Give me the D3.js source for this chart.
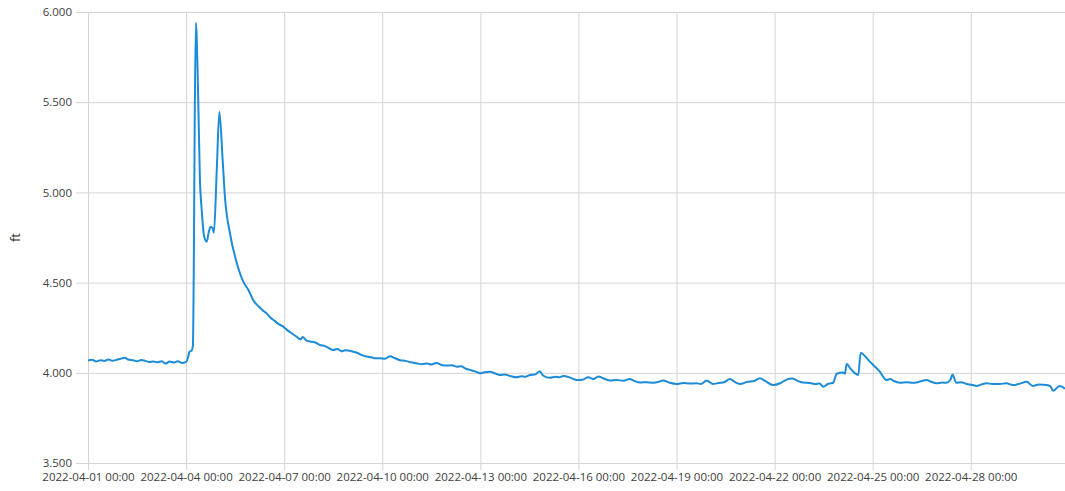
<!DOCTYPE html>
<html>
<head>
<meta charset="utf-8">
<script src="https://cdn.jsdelivr.net/npm/d3@7"></script>
<style>
  html, body { margin: 0; padding: 0; background: #fff; }
  #chart { width: 1065px; height: 491px; }
  text { font-family: "Open Sans", "DejaVu Sans", sans-serif; }
</style>
</head>
<body>
<div id="chart"></div>
<script>

// water level readings (ft)
const readings = [
  ["2022-04-01 00:00", 4.068], ["2022-04-01 03:00", 4.072], ["2022-04-01 06:00", 4.063], ["2022-04-01 09:00", 4.070],
  ["2022-04-01 12:00", 4.066], ["2022-04-01 15:00", 4.074], ["2022-04-01 18:00", 4.067], ["2022-04-01 21:00", 4.072],
  ["2022-04-02 00:00", 4.078], ["2022-04-02 03:00", 4.083], ["2022-04-02 06:00", 4.072], ["2022-04-02 09:00", 4.070],
  ["2022-04-02 12:00", 4.064], ["2022-04-02 15:00", 4.071], ["2022-04-02 18:00", 4.066], ["2022-04-02 21:00", 4.060],
  ["2022-04-03 00:00", 4.063], ["2022-04-03 03:00", 4.058], ["2022-04-03 06:00", 4.064], ["2022-04-03 09:00", 4.051],
  ["2022-04-03 12:00", 4.062], ["2022-04-03 15:00", 4.057], ["2022-04-03 18:00", 4.064], ["2022-04-03 21:00", 4.055],
  ["2022-04-04 00:00", 4.061], ["2022-04-04 01:30", 4.088], ["2022-04-04 02:30", 4.118], ["2022-04-04 04:00", 4.122],
  ["2022-04-04 05:00", 4.150], ["2022-04-04 05:40", 4.600], ["2022-04-04 06:20", 5.400], ["2022-04-04 07:10", 5.940],
  ["2022-04-04 08:50", 5.550], ["2022-04-04 10:05", 5.090], ["2022-04-04 11:30", 4.900], ["2022-04-04 13:10", 4.760],
  ["2022-04-04 15:10", 4.727], ["2022-04-04 16:40", 4.780], ["2022-04-04 18:00", 4.810], ["2022-04-04 19:30", 4.800],
  ["2022-04-04 20:25", 4.777], ["2022-04-04 22:30", 5.120], ["2022-04-05 00:25", 5.447], ["2022-04-05 02:50", 5.180],
  ["2022-04-05 04:30", 4.976], ["2022-04-05 08:10", 4.775], ["2022-04-05 13:10", 4.610], ["2022-04-05 18:00", 4.505],
  ["2022-04-05 21:40", 4.460], ["2022-04-06 01:30", 4.400], ["2022-04-06 05:00", 4.370], ["2022-04-06 08:00", 4.348],
  ["2022-04-06 11:00", 4.330], ["2022-04-06 14:00", 4.305], ["2022-04-06 17:00", 4.288], ["2022-04-06 20:00", 4.270],
  ["2022-04-06 23:20", 4.256], ["2022-04-07 02:00", 4.238], ["2022-04-07 05:00", 4.222], ["2022-04-07 09:10", 4.200],
  ["2022-04-07 12:00", 4.185], ["2022-04-07 13:30", 4.198], ["2022-04-07 16:30", 4.178], ["2022-04-07 20:00", 4.172],
  ["2022-04-07 23:00", 4.168], ["2022-04-08 02:10", 4.154], ["2022-04-08 06:00", 4.148], ["2022-04-08 09:00", 4.136],
  ["2022-04-08 12:00", 4.126], ["2022-04-08 15:00", 4.132], ["2022-04-08 18:00", 4.120], ["2022-04-08 21:00", 4.125],
  ["2022-04-09 02:40", 4.117], ["2022-04-09 06:00", 4.110], ["2022-04-09 09:00", 4.098], ["2022-04-09 12:30", 4.090],
  ["2022-04-09 16:00", 4.086], ["2022-04-09 19:00", 4.080], ["2022-04-09 22:20", 4.080], ["2022-04-10 02:00", 4.078],
  ["2022-04-10 05:45", 4.092], ["2022-04-10 09:00", 4.082], ["2022-04-10 13:00", 4.070], ["2022-04-10 17:00", 4.066],
  ["2022-04-10 21:00", 4.058], ["2022-04-11 01:10", 4.053], ["2022-04-11 05:00", 4.048], ["2022-04-11 09:00", 4.052],
  ["2022-04-11 12:00", 4.046], ["2022-04-11 15:50", 4.054], ["2022-04-11 19:00", 4.045], ["2022-04-11 23:00", 4.040],
  ["2022-04-12 03:00", 4.042], ["2022-04-12 06:40", 4.034], ["2022-04-12 10:00", 4.036], ["2022-04-12 13:00", 4.024],
  ["2022-04-12 16:20", 4.016], ["2022-04-12 20:00", 4.008], ["2022-04-12 23:45", 3.997], ["2022-04-13 03:00", 4.003],
  ["2022-04-13 07:00", 4.006], ["2022-04-13 11:00", 3.996], ["2022-04-13 14:25", 3.988], ["2022-04-13 18:00", 3.990],
  ["2022-04-13 22:00", 3.982], ["2022-04-14 02:40", 3.975], ["2022-04-14 06:00", 3.981], ["2022-04-14 09:00", 3.978],
  ["2022-04-14 12:30", 3.988], ["2022-04-14 16:00", 3.990], ["2022-04-14 19:40", 4.008], ["2022-04-14 22:00", 3.985],
  ["2022-04-15 03:10", 3.972], ["2022-04-15 07:00", 3.978], ["2022-04-15 10:00", 3.975], ["2022-04-15 13:00", 3.982],
  ["2022-04-15 17:00", 3.976], ["2022-04-15 22:30", 3.960], ["2022-04-16 03:00", 3.962], ["2022-04-16 07:10", 3.975],
  ["2022-04-16 11:00", 3.965], ["2022-04-16 14:40", 3.980], ["2022-04-16 18:00", 3.970], ["2022-04-16 23:00", 3.958],
  ["2022-04-17 04:00", 3.960], ["2022-04-17 09:00", 3.956], ["2022-04-17 13:40", 3.966], ["2022-04-17 17:00", 3.955],
  ["2022-04-17 21:10", 3.946], ["2022-04-18 02:00", 3.948], ["2022-04-18 07:00", 3.945], ["2022-04-18 11:00", 3.950],
  ["2022-04-18 14:10", 3.958], ["2022-04-18 19:00", 3.945], ["2022-04-19 00:00", 3.938], ["2022-04-19 05:00", 3.944],
  ["2022-04-19 10:00", 3.940], ["2022-04-19 14:40", 3.942], ["2022-04-19 18:00", 3.938], ["2022-04-19 22:05", 3.958],
  ["2022-04-20 02:50", 3.938], ["2022-04-20 07:00", 3.944], ["2022-04-20 11:00", 3.948], ["2022-04-20 15:10", 3.966],
  ["2022-04-20 19:00", 3.948], ["2022-04-20 22:35", 3.938], ["2022-04-21 04:00", 3.950], ["2022-04-21 09:00", 3.955],
  ["2022-04-21 13:10", 3.970], ["2022-04-21 17:00", 3.955], ["2022-04-21 23:00", 3.932], ["2022-04-22 04:00", 3.942],
  ["2022-04-22 08:50", 3.962], ["2022-04-22 13:00", 3.968], ["2022-04-22 17:00", 3.955], ["2022-04-22 20:50", 3.946],
  ["2022-04-23 02:00", 3.944], ["2022-04-23 06:00", 3.938], ["2022-04-23 09:00", 3.940], ["2022-04-23 11:45", 3.923],
  ["2022-04-23 15:00", 3.938], ["2022-04-23 19:00", 3.945], ["2022-04-23 21:35", 3.995], ["2022-04-24 02:25", 4.002],
  ["2022-04-24 03:40", 3.995], ["2022-04-24 04:50", 4.049], ["2022-04-24 08:00", 4.020], ["2022-04-24 11:00", 3.997],
  ["2022-04-24 13:25", 3.988], ["2022-04-24 15:10", 4.110], ["2022-04-24 21:50", 4.062], ["2022-04-25 05:15", 4.006],
  ["2022-04-25 10:05", 3.960], ["2022-04-25 13:00", 3.965], ["2022-04-25 15:10", 3.956], ["2022-04-25 19:55", 3.945],
  ["2022-04-26 01:00", 3.948], ["2022-04-26 05:00", 3.945], ["2022-04-26 08:10", 3.946], ["2022-04-26 12:00", 3.955],
  ["2022-04-26 15:35", 3.960], ["2022-04-26 19:00", 3.950], ["2022-04-26 22:50", 3.942], ["2022-04-27 03:00", 3.946],
  ["2022-04-27 06:00", 3.945], ["2022-04-27 09:00", 3.960], ["2022-04-27 10:35", 3.990], ["2022-04-27 13:25", 3.945],
  ["2022-04-27 17:00", 3.948], ["2022-04-27 20:50", 3.938], ["2022-04-28 00:30", 3.934], ["2022-04-28 04:20", 3.927],
  ["2022-04-28 08:00", 3.936], ["2022-04-28 11:30", 3.942], ["2022-04-28 16:00", 3.938], ["2022-04-28 21:20", 3.938],
  ["2022-04-29 02:00", 3.942], ["2022-04-29 07:00", 3.932], ["2022-04-29 12:00", 3.940], ["2022-04-29 17:00", 3.950],
  ["2022-04-29 21:35", 3.927], ["2022-04-30 02:00", 3.935], ["2022-04-30 07:40", 3.932], ["2022-04-30 10:30", 3.925],
  ["2022-04-30 12:30", 3.900], ["2022-04-30 17:15", 3.927], ["2022-04-30 21:10", 3.912]
];

const yTicks = [3.5, 4.0, 4.5, 5.0, 5.5, 6.0];
const xTicks = ["2022-04-01 00:00", "2022-04-04 00:00", "2022-04-07 00:00", "2022-04-10 00:00",
  "2022-04-13 00:00", "2022-04-16 00:00", "2022-04-19 00:00", "2022-04-22 00:00",
  "2022-04-25 00:00", "2022-04-28 00:00"];
const yLabel = "ft";

const parseTime = d3.timeParse("%Y-%m-%d %H:%M");
const fmtTime = d3.timeFormat("%Y-%m-%d %H:%M");

const data = readings.map(([t, v]) => ({ time: parseTime(t), value: v }));

const W = 1065, H = 491;
const margin = { top: 12, right: 0, bottom: 28, left: 88 };
const width = W - margin.left - margin.right;
const height = H - margin.top - margin.bottom;

const svg = d3.select("#chart").append("svg")
    .attr("width", W)
    .attr("height", H);

const g = svg.append("g")
    .attr("transform", `translate(${margin.left},${margin.top})`);

const xScale = d3.scaleTime()
    .domain(d3.extent(data, d => d.time))
    .range([0, width]);

const yScale = d3.scaleLinear()
    .domain([3.5, 6.0])
    .range([height, 0]);

// gridlines with the ticks hanging out past the plot
const gridColor = "#d4d4d4";

const xAxis = d3.axisBottom(xScale)
    .tickValues(xTicks.map(parseTime))
    .tickFormat(fmtTime)
    .tickSize(height + 7)
    .tickPadding(3);

const yAxis = d3.axisLeft(yScale)
    .tickValues(yTicks)
    .tickFormat(d3.format(".3f"))
    .tickSize(width + 12)
    .tickPadding(4);

g.append("g")
    .attr("class", "x axis")
    .call(xAxis)
    .call(a => a.select(".domain").remove())
    .call(a => a.selectAll(".tick line").attr("stroke", gridColor))
    .call(a => a.selectAll(".tick text")
        .attr("fill", "#404040")
        .style("font-size", "11.5px"));

g.append("g")
    .attr("class", "y axis")
    .attr("transform", `translate(${width},0)`)
    .call(yAxis)
    .call(a => a.select(".domain").remove())
    .call(a => a.selectAll(".tick line").attr("stroke", gridColor))
    .call(a => a.selectAll(".tick text")
        .attr("fill", "#404040")
        .style("font-size", "11.5px"));

g.append("text")
    .attr("transform", `translate(${15 - margin.left},${height / 2}) rotate(-90)`)
    .attr("text-anchor", "middle")
    .attr("dy", "0.35em")
    .attr("fill", "#222")
    .style("font-size", "13px")
    .text(yLabel);

const line = d3.line()
    .x(d => xScale(d.time))
    .y(d => yScale(d.value))
    .curve(d3.curveMonotoneX);

g.append("path")
    .datum(data)
    .attr("fill", "none")
    .attr("stroke", "#1c8bd8")
    .attr("stroke-width", 2)
    .attr("stroke-linejoin", "round")
    .attr("d", line);

</script>
</body>
</html>
